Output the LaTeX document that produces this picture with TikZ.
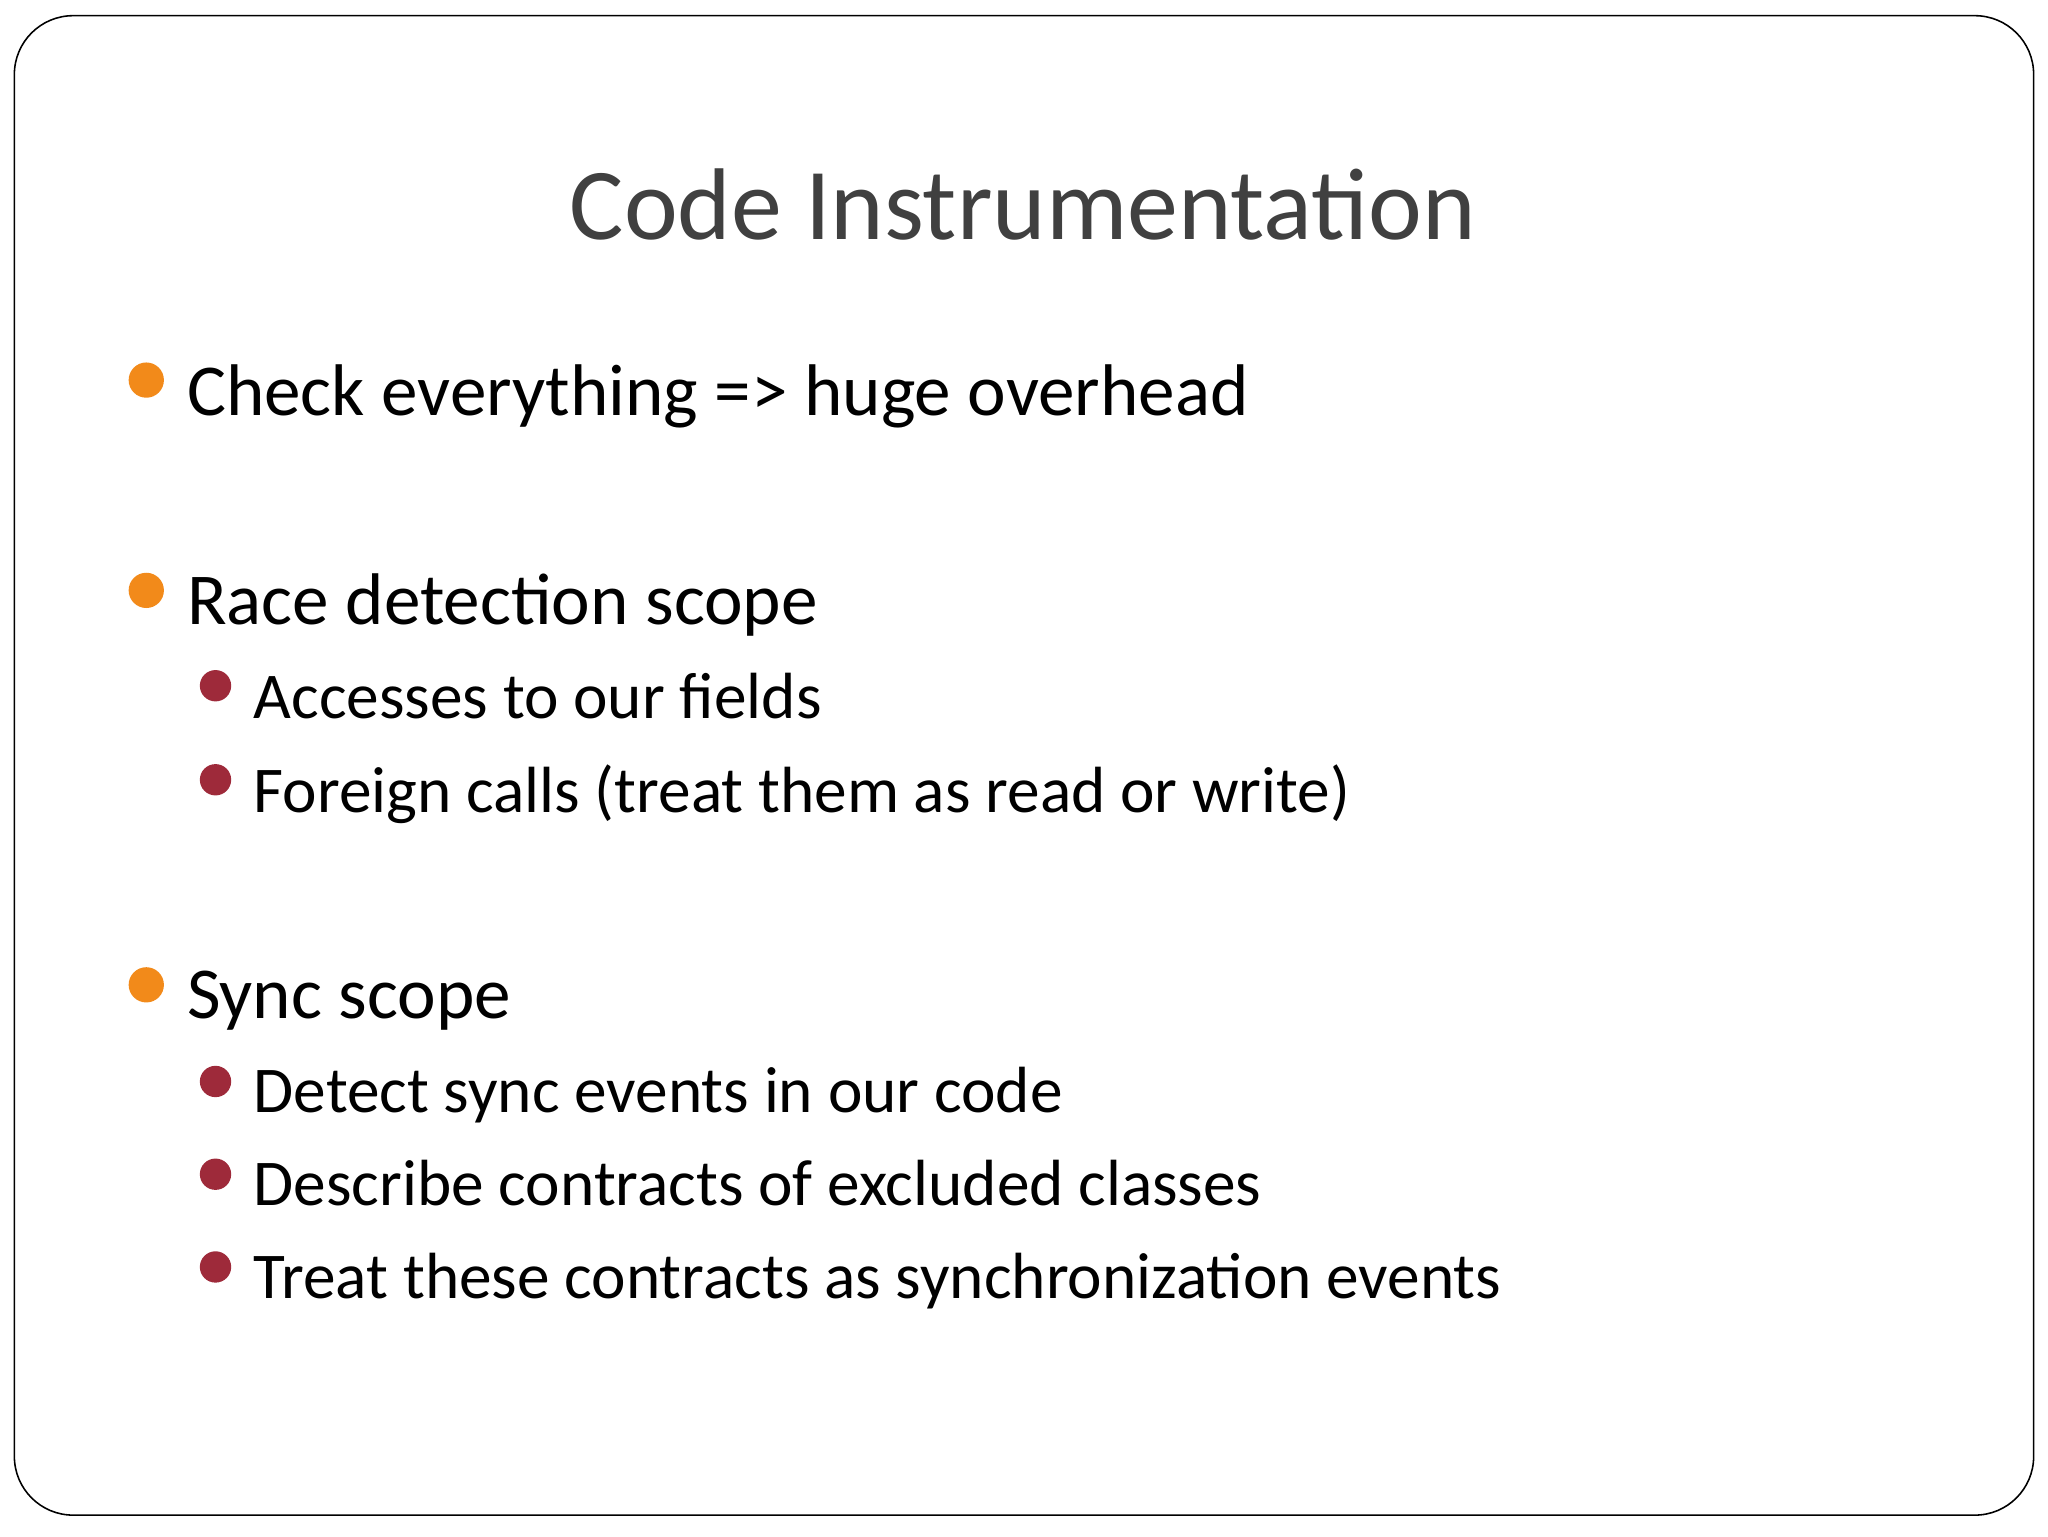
\documentclass[tikz,border=0pt]{standalone}
\usepackage{fontspec}
\setmainfont{Carlito}
\definecolor{borange}{HTML}{F28A1A}
\definecolor{bred}{HTML}{9E2A3A}
\definecolor{titlegray}{HTML}{404040}
\begin{document}
\begin{tikzpicture}[x=1pt,y=1pt,
  lvlone/.style={anchor=base west,inner sep=0pt,font=\fontsize{56}{60}\selectfont},
  lvltwo/.style={anchor=base west,inner sep=0pt,font=\fontsize{50}{54}\selectfont},
  dotone/.style={circle,fill=borange,minimum size=27pt,inner sep=0pt},
  dottwo/.style={circle,fill=bred,minimum size=24pt,inner sep=0pt}]
\useasboundingbox (0,0) rectangle (1568,-1176);
\draw[line width=1.2pt,rounded corners=45pt] (11,-12) rectangle (1557,-1160);
\node[anchor=base,inner sep=0pt,text=titlegray,font=\fontsize{78}{80}\selectfont] (title) at (783,-183) {Code Instrumentation};
\node[dotone] (d1) at (112,-291) {};
\node[lvlone] (t1) at (143,-318) {Check everything => huge overhead};
\node[dotone] (d2) at (112,-452) {};
\node[lvlone] (t2) at (143,-478) {Race detection scope};
\node[dottwo] (d21) at (165,-525) {};
\node[lvltwo] (t21) at (194,-550) {Accesses to our fields};
\node[dottwo] (d22) at (165,-597) {};
\node[lvltwo] (t22) at (194,-622) {Foreign calls (treat them as read or write)};
\node[dotone] (d3) at (112,-754) {};
\node[lvlone] (t3) at (143,-780) {Sync scope};
\node[dottwo] (d31) at (165,-828) {};
\node[lvltwo] (t31) at (194,-852) {Detect sync events in our code};
\node[dottwo] (d32) at (165,-899) {};
\node[lvltwo] (t32) at (194,-923) {Describe contracts of excluded classes};
\node[dottwo] (d33) at (165,-970) {};
\node[lvltwo] (t33) at (194,-994) {Treat these contracts as synchronization events};
\end{tikzpicture}
\end{document}
